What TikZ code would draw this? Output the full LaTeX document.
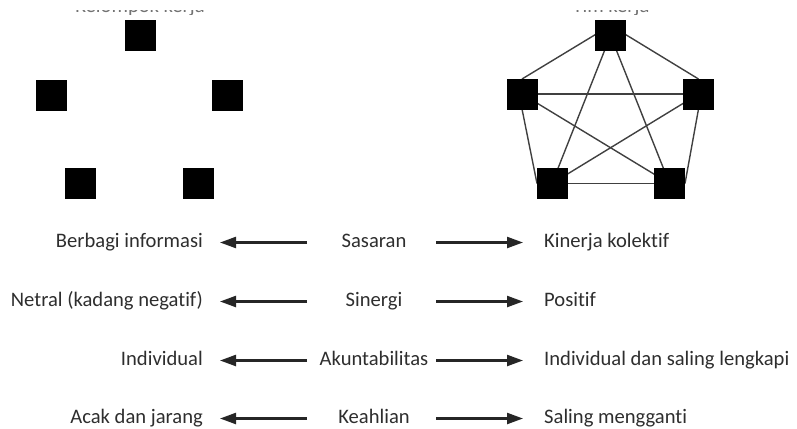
\documentclass[tikz,border=0pt]{standalone}
\usepackage{fontspec}
\setmainfont{Carlito}[RawFeature={-liga}]
\usetikzlibrary{arrows.meta}
\begin{document}
\begin{tikzpicture}[x=1pt,y=-1pt,
  sq/.style={draw=none,fill=black,minimum size=31pt,inner sep=0pt},
  edge/.style={draw=black!75,line width=1.4pt},
  lbl/.style={inner sep=0pt,text=black!82,font=\fontsize{20.6}{24}\selectfont},
  arr/.style={draw=black!85,line width=2.3pt,-{Triangle[length=16pt,width=11pt]}},
  ttl/.style={inner sep=0pt,text=black!55,font=\fontsize{20.6}{24}\selectfont}]
\useasboundingbox (0,0) rectangle (797,428);
% cut-off titles
\begin{scope}
\clip (0,11) rectangle (797,15);
\node[ttl,anchor=base] (t1) at (140,12.5) {Kelompok kerja};
\node[ttl,anchor=base] (t2) at (611,12.5) {Tim kerja};
\end{scope}
% left group
\node[sq] (a1) at (140,36) {};
\node[sq] (a2) at (51.5,95) {};
\node[sq] (a3) at (227.5,95) {};
\node[sq] (a4) at (80.5,183) {};
\node[sq] (a5) at (198,183) {};
% right group
\coordinate (c1) at (610.5,35.5);
\coordinate (c2) at (522,94);
\coordinate (c3) at (698.5,94);
\coordinate (c4) at (552,183.5);
\coordinate (c5) at (669.5,183.5);
\coordinate (p1w) at (595.5,34.5);
\coordinate (p1e) at (625.5,34.5);
\coordinate (p2n) at (522,79);
\coordinate (p3n) at (698.5,79);
\coordinate (p2s) at (522,109);
\coordinate (p3s) at (698.5,109);
\coordinate (p4w) at (537,183.5);
\coordinate (p5e) at (685,183.5);
\draw[edge] (p1w) -- (p2n);
\draw[edge] (p1e) -- (p3n);
\draw[edge] (p2s) -- (p4w);
\draw[edge] (p3s) -- (p5e);
\draw[edge] (c4) -- (c5);
\draw[edge] (c2) -- (c3);
\draw[edge] (c1) -- (c4);
\draw[edge] (c1) -- (c5);
\draw[edge] (c2) -- (c5);
\draw[edge] (c3) -- (c4);
\node[sq] (b1) at (c1) {};
\node[sq] (b2) at (c2) {};
\node[sq] (b3) at (c3) {};
\node[sq] (b4) at (c4) {};
\node[sq] (b5) at (c5) {};
% rows
\foreach \i/\y/\l/\m/\r in {
  1/242.5/Berbagi informasi/Sasaran/Kinerja kolektif,
  2/301.5/Netral (kadang negatif)/Sinergi/Positif,
  3/360.5/Individual/Akuntabilitas/Individual dan saling lengkapi,
  4/418.5/Acak dan jarang/Keahlian/Saling mengganti}{
  \node[lbl,anchor=base east] (l\i) at (203,\y+4.8) {\l};
  \node[lbl,anchor=base] (m\i) at (374,\y+4.8) {\m};
  \node[lbl,anchor=base west] (r\i) at (544,\y+4.8) {\r};
  \coordinate (lt\i) at (307,\y);
  \coordinate (lh\i) at (220,\y);
  \coordinate (rt\i) at (436,\y);
  \coordinate (rh\i) at (523,\y);
  \draw[arr] (lt\i) -- (lh\i);
  \draw[arr] (rt\i) -- (rh\i);
}
\end{tikzpicture}
\end{document}
